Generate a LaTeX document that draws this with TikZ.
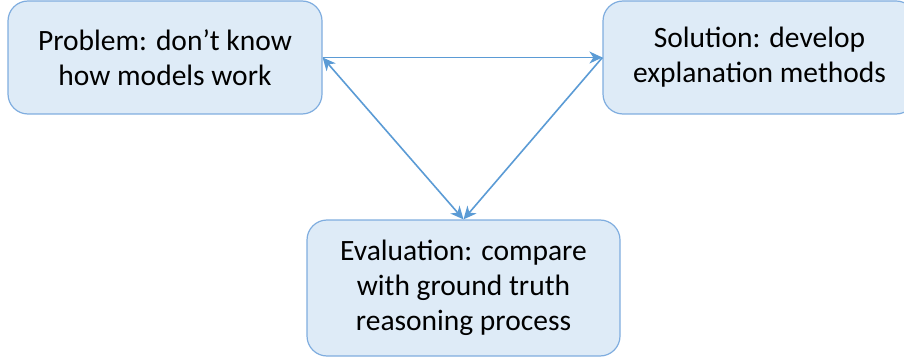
\documentclass[tikz,border=0pt]{standalone}
\usepackage{fontspec}
\setmainfont{Carlito}
\usetikzlibrary{arrows.meta}
\definecolor{boxfill}{HTML}{DEEBF7}
\definecolor{boxline}{HTML}{7FADDF}
\definecolor{arrowc}{HTML}{5B9BD5}
\begin{document}
\begin{tikzpicture}[x=1pt,y=-1pt,
  box/.style={draw=boxline, fill=boxfill, line width=1.2pt, rounded corners=20pt,
    align=center, font=\fontsize{29.5}{35}\selectfont, inner sep=0pt},
  conn/.style={draw=arrowc, line width=1.6pt, -{Stealth[length=13pt,width=12pt,inset=4pt]}},
  conn2/.style={draw=arrowc, line width=1.6pt, {Stealth[length=13pt,width=12pt,inset=4pt]}-{Stealth[length=13pt,width=12pt,inset=4pt]}}]
\useasboundingbox (0,0) rectangle (904,358);
\begin{scope}
\clip (0,0) rectangle (904,358);
\node[box, minimum width=314pt, minimum height=113pt] (p) at (165,57.5) {Problem: don’t know\\how models work};
\node[box, minimum width=313pt, minimum height=113pt] (s) at (759.5,57.5) {Solution: develop\\explanation methods};
\node[box, minimum width=313pt, minimum height=136pt] (e) at (463.5,288) {Evaluation: compare\\with ground truth\\reasoning process};
\end{scope}
\draw[conn] (p.east) -- (s.west);
\draw[conn2] (p.east) -- (e.north);
\draw[conn] (s.west) -- (e.north);
\end{tikzpicture}
\end{document}
